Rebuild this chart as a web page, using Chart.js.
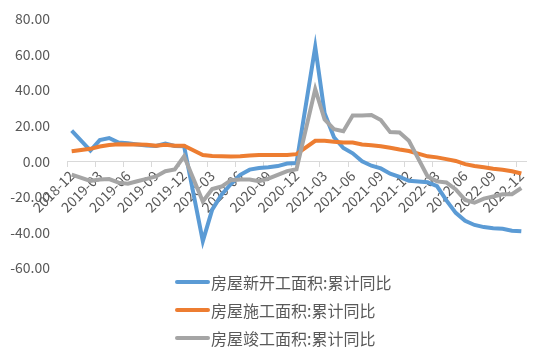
<!DOCTYPE html>
<html>
<head>
<meta charset="utf-8">
<script src="https://cdn.jsdelivr.net/npm/chart.js@4.4.1/dist/chart.umd.min.js"></script>
<style>
  body { margin: 0; background: #fff; }
  #wrap { position: relative; width: 550px; height: 350px; }
  #legend { position: absolute; left: 175px; top: 268px; font-family: "Noto Sans CJK SC", sans-serif; font-size: 16px; color: #595959; }
  .item { display: flex; align-items: center; height: 28px; }
  .swatch { width: 35px; height: 4px; margin-right: 1px; border-radius: 2px; }
</style>
</head>
<body>
<div id="wrap">
  <canvas id="chart"></canvas>
  <div id="legend"></div>
</div>
<script>
  // 月份 2018-12 ~ 2022-12，1月无数据
  const months = [
    "2018-12",
    "2019-01", "2019-02", "2019-03", "2019-04", "2019-05", "2019-06", "2019-07", "2019-08", "2019-09", "2019-10", "2019-11", "2019-12",
    "2020-01", "2020-02", "2020-03", "2020-04", "2020-05", "2020-06", "2020-07", "2020-08", "2020-09", "2020-10", "2020-11", "2020-12",
    "2021-01", "2021-02", "2021-03", "2021-04", "2021-05", "2021-06", "2021-07", "2021-08", "2021-09", "2021-10", "2021-11", "2021-12",
    "2022-01", "2022-02", "2022-03", "2022-04", "2022-05", "2022-06", "2022-07", "2022-08", "2022-09", "2022-10", "2022-11", "2022-12"
  ];

  const newStart = [
    17.2,
    null, 6.0, 11.9, 13.1, 10.5, 10.1, 9.5, 8.9, 8.6, 10.0, 8.6, 8.5,
    null, -44.9, -27.2, -18.8, -12.8, -7.6, -4.7, -3.8, -3.4, -2.7, -1.3, -1.0,
    null, 64.3, 27.0, 13.5, 7.5, 4.5, 0.0, -2.5, -4.0, -7.0, -8.8, -11.0,
    null, -11.8, -14.0, -22.0, -29.0, -33.5, -35.8, -37.0, -37.6, -37.9, -39.0, -39.4
  ];

  const underConstruction = [
    5.6,
    null, 7.0, 8.3, 9.2, 9.6, 9.5, 9.5, 9.3, 8.8, 9.3, 8.8, 8.7,
    null, 3.5, 3.0, 2.8, 2.7, 2.8, 3.3, 3.6, 3.6, 3.6, 3.6, 4.0,
    null, 11.5, 11.6, 11.0, 10.6, 10.5, 9.4, 9.0, 8.4, 7.6, 6.6, 5.8,
    null, 2.8, 2.2, 1.2, 0.2, -1.6, -2.6, -3.3, -4.2, -4.8, -5.6, -6.9
  ];

  const completed = [
    -7.5,
    null, -11.0, -10.3, -10.0, -12.0, -12.6, -11.2, -9.9, -8.5, -5.6, -4.6, 2.8,
    null, -22.6, -15.6, -14.2, -10.6, -10.3, -10.3, -11.2, -9.8, -7.6, -5.5, -4.5,
    null, 40.6, 23.5, 18.1, 16.9, 25.8, 25.8, 26.0, 23.2, 16.4, 16.2, 11.5,
    null, -8.5, -11.3, -11.9, -15.8, -21.7, -23.3, -21.0, -19.8, -18.6, -18.5, -15.0
  ];

  const seriesNames = ["房屋新开工面积:累计同比", "房屋施工面积:累计同比", "房屋竣工面积:累计同比"];
  const seriesColors = ["#5B9BD5", "#ED7D31", "#A5A5A5"];

  const axisColor = "#D9D9D9";
  const textColor = "#595959";
  const font = "'Noto Sans CJK SC', sans-serif";

  function makeSet(i, data, order) {
    return {
      label: seriesNames[i],
      data: data,
      borderColor: seriesColors[i],
      backgroundColor: seriesColors[i],
      borderWidth: 4,
      pointRadius: 0,
      tension: 0,
      spanGaps: true,
      order: order,
    };
  }

  const chart = new Chart(document.getElementById("chart"), {
    type: "line",
    data: {
      labels: months,
      datasets: [
        makeSet(0, newStart, 3),
        makeSet(1, underConstruction, 2),
        makeSet(2, completed, 1),
      ],
    },
    options: {
      responsive: true,
      maintainAspectRatio: false,
      animation: false,
      layout: { padding: { top: 19, right: 24, bottom: 82, left: 0 } },
      plugins: {
        legend: { display: false },
        tooltip: { enabled: false },
      },
      scales: {
        x: {
          position: { y: 0 },
          offset: true,
          border: { color: axisColor, width: 1 },
          grid: {
            offset: true,
            drawOnChartArea: false,
            drawTicks: true,
            tickLength: 5,
            tickColor: (ctx) => (ctx.index % 3 === 0 ? axisColor : "rgba(0,0,0,0)"),
          },
          ticks: {
            autoSkip: false,
            minRotation: 45,
            maxRotation: 45,
            padding: 1,
            color: textColor,
            font: { family: font, size: 14 },
            callback: function (val, i) {
              return i % 3 === 0 ? this.getLabelForValue(val) : "";
            },
          },
        },
        y: {
          min: -60,
          max: 80,
          border: { display: false },
          grid: { display: false, drawTicks: true, tickLength: 14 },
          afterFit: (scale) => { scale.width = 67; },
          ticks: {
            stepSize: 20,
            padding: 3,
            color: textColor,
            font: { family: font, size: 14 },
            callback: (v) => v.toFixed(2),
          },
        },
      },
    },
  });

  // 图例：竖排，线段 + 文字
  const legend = document.getElementById("legend");
  seriesNames.forEach((name, i) => {
    const row = document.createElement("div");
    row.className = "item";
    const sw = document.createElement("span");
    sw.className = "swatch";
    sw.style.background = seriesColors[i];
    const txt = document.createElement("span");
    txt.textContent = name;
    row.appendChild(sw);
    row.appendChild(txt);
    legend.appendChild(row);
  });
</script>
</body>
</html>
